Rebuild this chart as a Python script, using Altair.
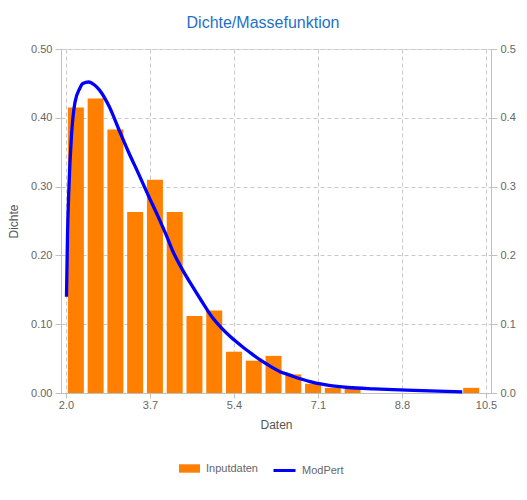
import altair as alt
import pandas as pd

# Histogram (bin centers, density)
bin_centers = [2.2, 2.6, 3.0, 3.4, 3.8, 4.2, 4.6, 5.0, 5.4, 5.8, 6.2, 6.6, 7.0, 7.4, 7.8, 10.2]
bin_density = [0.415, 0.428, 0.383, 0.263, 0.310, 0.263, 0.112, 0.120, 0.060, 0.047,
               0.054, 0.027, 0.0135, 0.0075, 0.0065, 0.0075]

# ModPert density curve
curve_x = [2.01, 2.03, 2.06, 2.11, 2.18, 2.28, 2.34, 2.46, 2.57, 2.67, 2.87, 3.07, 3.26,
           3.46, 3.66, 3.86, 4.06, 4.15, 4.35, 4.55, 4.75, 4.94, 5.14, 5.34, 5.54, 5.74,
           5.93, 6.13, 6.33, 6.53, 6.72, 6.92, 7.12, 7.32, 7.71, 8.24, 8.77, 9.36, 10.02]
curve_y = [0.140, 0.228, 0.300, 0.373, 0.422, 0.443, 0.450, 0.452, 0.448, 0.441, 0.417,
           0.383, 0.351, 0.320, 0.288, 0.257, 0.224, 0.208, 0.180, 0.156, 0.133, 0.112,
           0.095, 0.081, 0.069, 0.058, 0.048, 0.039, 0.031, 0.026, 0.021, 0.017, 0.0135,
           0.011, 0.008, 0.006, 0.0045, 0.003, 0.0015]

x_ticks = [2.0, 3.7, 5.4, 7.1, 8.8, 10.5]
y_ticks = [0.0, 0.1, 0.2, 0.3, 0.4, 0.5]

bars = pd.DataFrame({"x": bin_centers, "y": bin_density, "s": "Inputdaten"})
curve = pd.DataFrame({"x": curve_x, "y": curve_y, "s": "ModPert"})

FONT = "Liberation Sans"
GRID = "#c8c8c8"
AXC = "#c0c0c0"
LAB = "#666666"

xenc = alt.X("x:Q", scale=alt.Scale(domain=[2.0, 10.5], nice=False, zero=False),
             axis=alt.Axis(values=x_ticks, format=".1f", title="Daten", grid=True,
                           gridDash=[4, 3], gridColor=GRID, domainColor=AXC,
                           tickColor=AXC, tickSize=5, labelColor=LAB, labelFontSize=11,
                           labelFont=FONT, titleFont=FONT, titleFontSize=12,
                           titleFontWeight="normal", titleColor="#555555",
                           titlePadding=9, labelPadding=1, labelFlush=False))

bar_layer = alt.Chart(bars).mark_bar(size=16).encode(
    x=xenc,
    y=alt.Y("y:Q", scale=alt.Scale(domain=[0, 0.5], nice=False),
            axis=alt.Axis(values=y_ticks, format=".2f", title="Dichte", orient="left",
                          grid=True, gridDash=[4, 3], gridColor=GRID, domainColor=AXC,
                          tickColor=AXC, tickSize=6, labelColor=LAB, labelFontSize=11,
                          labelFont=FONT, titleFont=FONT, titleFontSize=12,
                          titleFontWeight="normal", titleColor="#555555",
                          titlePadding=10, labelPadding=3)),
    fill=alt.Fill("s:N", scale=alt.Scale(domain=["Inputdaten"], range=["#FF8000"]),
                  legend=alt.Legend(title=None, orient="none", legendX=118, legendY=409,
                                    symbolType="M-1,-0.4H1V0.4H-1Z", symbolSize=441,
                                    symbolStrokeWidth=0, labelOffset=6, padding=0,
                                    labelFont=FONT, labelFontSize=11, labelColor=LAB)),
)

line_layer = alt.Chart(curve).mark_line(strokeWidth=3.3, interpolate="monotone").encode(
    x=alt.X("x:Q"),
    y=alt.Y("y:Q", scale=alt.Scale(domain=[0, 0.5], nice=False),
            axis=alt.Axis(values=y_ticks, format=".1f", title=None, orient="right",
                          grid=False, domainColor=AXC, tickColor=AXC, tickSize=6,
                          labelColor=LAB, labelFontSize=11, labelFont=FONT,
                          labelPadding=3)),
    stroke=alt.Stroke("s:N", scale=alt.Scale(domain=["ModPert"], range=["#0000FF"]),
                      legend=alt.Legend(title=None, orient="none", legendX=211, legendY=409,
                                        symbolType="stroke", symbolSize=484,
                                        symbolStrokeWidth=3, labelOffset=5, padding=0,
                                        labelFont=FONT, labelFontSize=11, labelColor=LAB)),
)

chart = alt.layer(bar_layer, line_layer).resolve_scale(
    y="independent", fill="independent", stroke="independent"
).properties(
    width=430,
    height=344,
    title=alt.TitleParams("Dichte/Massefunktion", font=FONT, fontSize=16,
                          fontWeight="normal", color="#1F6FC6", anchor="middle",
                          dx=-13, offset=12),
    autosize=alt.AutoSizeParams(type="none"),
    padding={"left": 53, "top": 41, "right": 25, "bottom": 90},
).configure_view(stroke=AXC).configure(background="white")

chart.save("out.html", embed_options={"renderer": "svg", "actions": False})
